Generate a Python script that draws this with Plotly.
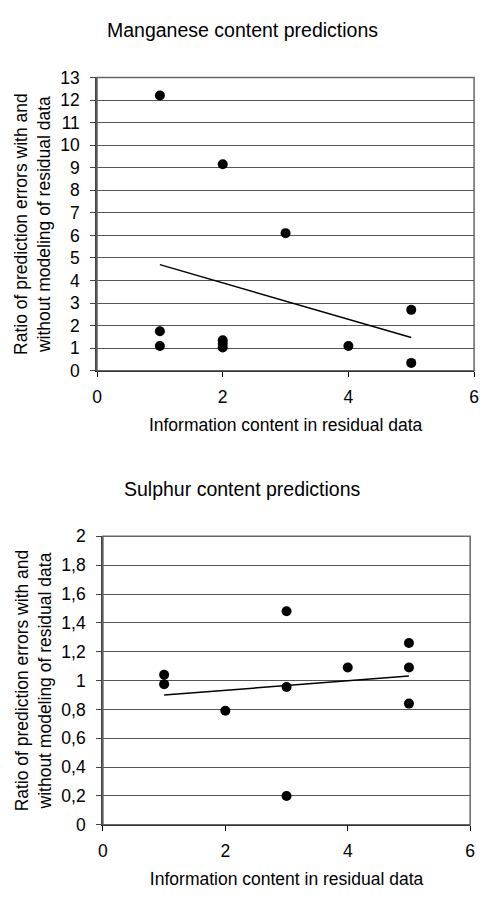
import numpy as np
import plotly.graph_objects as go

# Manganese data
mn_x = [1, 1, 1, 2, 2, 2, 2, 3, 4, 5, 5]
mn_y = [12.2, 1.75, 1.1, 9.15, 1.35, 1.2, 1.03, 6.1, 1.1, 2.7, 0.35]

# Sulphur data
s_x = [1, 1, 2, 3, 3, 3, 4, 5, 5, 5]
s_y = [1.04, 0.975, 0.79, 1.48, 0.955, 0.2, 1.09, 1.26, 1.09, 0.84]

mn_yticks = list(range(0, 14))
mn_yticklabels = [str(v) for v in mn_yticks]
s_yticks = [0, 0.2, 0.4, 0.6, 0.8, 1.0, 1.2, 1.4, 1.6, 1.8, 2.0]
s_yticklabels = ["0", "0,2", "0,4", "0,6", "0,8", "1", "1,2", "1,4", "1,6", "1,8", "2"]
x_ticks = [0, 2, 4, 6]
x_ticklabels = ["0", "2", "4", "6"]

title_top = "Manganese content predictions"
title_bottom = "Sulphur content predictions"
x_title = "Information content in residual data"
y_title = "Ratio of prediction errors with and<br>without modeling of residual data"


def trend(xs, ys):
    a, b = np.polyfit(xs, ys, 1)
    xe = [min(xs), max(xs)]
    return xe, [a * v + b for v in xe]


W, H = 483, 899
FONT = "Liberation Sans, Arial, sans-serif"

fig = go.Figure()
tx, ty = trend(mn_x, mn_y)
fig.add_trace(go.Scatter(x=tx, y=ty, mode="lines", line=dict(color="black", width=1.5),
                         xaxis="x", yaxis="y", showlegend=False))
fig.add_trace(go.Scatter(x=mn_x, y=mn_y, mode="markers", marker=dict(color="black", size=10),
                         xaxis="x", yaxis="y", showlegend=False))
tx2, ty2 = trend(s_x, s_y)
fig.add_trace(go.Scatter(x=tx2, y=ty2, mode="lines", line=dict(color="black", width=1.5),
                         xaxis="x2", yaxis="y2", showlegend=False))
fig.add_trace(go.Scatter(x=s_x, y=s_y, mode="markers", marker=dict(color="black", size=10),
                         xaxis="x2", yaxis="y2", showlegend=False))

axis_font = dict(family=FONT, size=17.5, color="black")
title_font = dict(family=FONT, size=19.5, color="black")

common_x = dict(range=[0, 6], tickvals=x_ticks, ticktext=x_ticklabels, showgrid=False,
                zeroline=False, showline=True, linecolor="black", linewidth=1,
                ticks="outside", ticklen=5, tickcolor="black", tickfont=axis_font,
                ticklabelstandoff=5,
                mirror=False, title=dict(text=x_title, font=axis_font, standoff=12))
common_y = dict(showgrid=True, gridcolor="#555555", gridwidth=1, zeroline=False,
                showline=True, linecolor="#444444", linewidth=1.5,
                ticks="outside", ticklen=5, tickcolor="#444444", tickfont=axis_font,
                ticklabelstandoff=7,
                title=dict(text=y_title, font=axis_font, standoff=5))

fig.update_layout(
    width=W, height=H,
    margin=dict(l=0, r=0, t=0, b=0),
    paper_bgcolor="white", plot_bgcolor="white",
    font=dict(family=FONT, size=17.5, color="black"),
    xaxis=dict(domain=[94 / W, 479 / W], anchor="y", **common_x),
    yaxis=dict(domain=[1 - 369 / H, 1 - 69 / H], anchor="x", range=[0, 13],
               tickvals=mn_yticks, ticktext=mn_yticklabels, **common_y),
    xaxis2=dict(domain=[100 / W, 475 / W], anchor="y2", **common_x),
    yaxis2=dict(domain=[1 - 833.3 / H, 1 - 538.3 / H], anchor="x2", range=[0, 2],
                tickvals=s_yticks, ticktext=s_yticklabels, **common_y),
    shapes=[
        dict(type="rect", xref="paper", yref="paper", x0=94 / W, x1=479 / W,
             y0=1 - 369 / H, y1=1 - 69 / H, line=dict(color="#666666", width=1.5), layer="above"),
        dict(type="rect", xref="paper", yref="paper", x0=100 / W, x1=475 / W,
             y0=1 - 833.3 / H, y1=1 - 538.3 / H, line=dict(color="#666666", width=1.5), layer="above"),
    ],
    annotations=[
        dict(text=title_top, x=243 / W, y=1 - 20 / H, xref="paper", yref="paper",
             showarrow=False, xanchor="center", yanchor="middle", font=title_font),
        dict(text=title_bottom, x=243 / W, y=1 - 490 / H, xref="paper", yref="paper",
             showarrow=False, xanchor="center", yanchor="middle", font=title_font),
    ],
)

fig.write_html("out.html")
